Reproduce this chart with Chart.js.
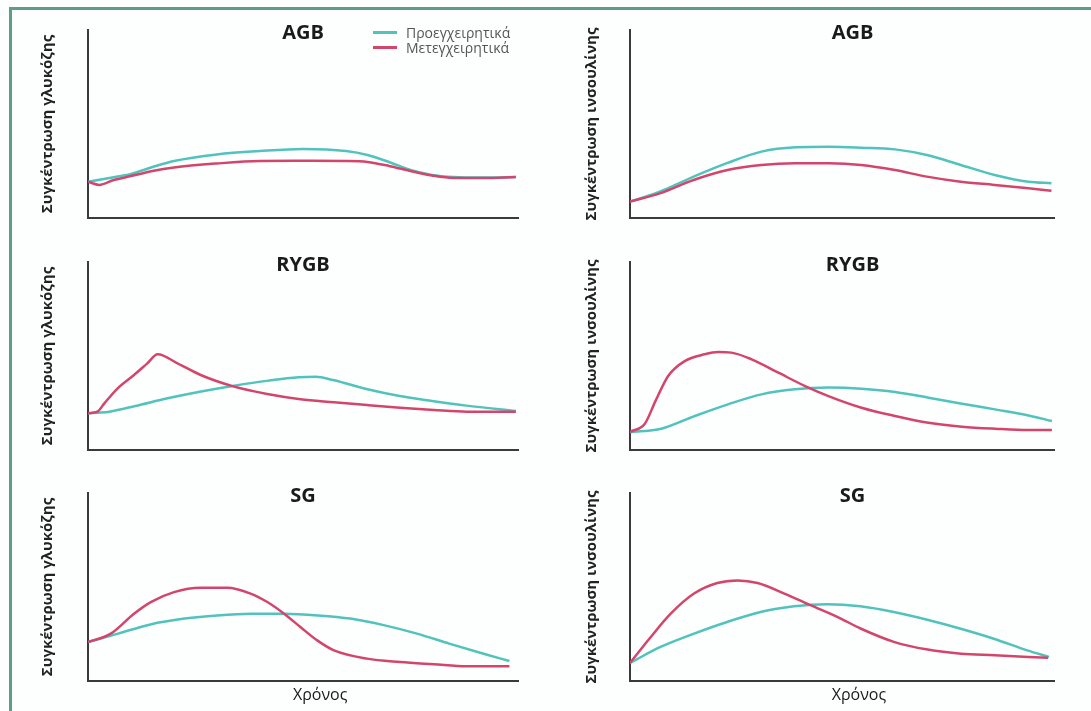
<!DOCTYPE html>
<html>
<head>
<meta charset="utf-8">
<script src="https://cdn.jsdelivr.net/npm/chart.js@4"></script>
<style>
  body { margin: 0; background: #fdfffe; width: 1091px; height: 711px; overflow: hidden; position: relative; font-family: "Open Sans", sans-serif; }
  #frame { position: absolute; left: 9px; top: 7px; width: 1090px; height: 710px; border-left: 3px solid #5e9e88; border-top: 3px solid #5e9e88; }
  .panel { position: absolute; }
  #legend { position: absolute; left: 373px; top: 25px; font-size: 14px; color: #555; line-height: 15px; }
  #legend div { display: flex; align-items: center; white-space: nowrap; }
  #legend span.sw { display: inline-block; width: 24px; height: 3px; margin-right: 9px; }
</style>
</head>
<body>
<div id="frame"></div>
<canvas id="agbGlu" class="panel" width="545" height="240" style="left:0;top:0"></canvas>
<canvas id="agbIns" class="panel" width="546" height="240" style="left:545px;top:0"></canvas>
<canvas id="rygbGlu" class="panel" width="545" height="230" style="left:0;top:240px"></canvas>
<canvas id="rygbIns" class="panel" width="546" height="230" style="left:545px;top:240px"></canvas>
<canvas id="sgGlu" class="panel" width="545" height="241" style="left:0;top:470px"></canvas>
<canvas id="sgIns" class="panel" width="546" height="241" style="left:545px;top:470px"></canvas>
<div id="legend"></div>
<script>
// time axis is 0..100 (arbitrary), concentration 0..100 (arbitrary)
const agbGluPreT  = [0, 5, 10, 15, 20, 30, 40, 50, 60, 65, 70, 75, 80, 85, 92, 99.5];
const agbGluPre   = [19.3, 21.3, 23.4, 27.1, 30.3, 33.8, 35.6, 36.7, 35.6, 33.5, 29.8, 25.5, 22.9, 21.8, 21.5, 21.8];
const agbGluPostT = [0, 2.6, 6, 10, 15, 20, 30, 40, 50, 60, 65, 70, 75, 80, 85, 92, 99.5];
const agbGluPost  = [19.3, 17.6, 20.2, 22.3, 25, 26.9, 29, 30.3, 30.4, 30.3, 29.8, 27.7, 25, 22.6, 21.3, 21.3, 21.8];

const agbInsT    = [0, 7, 15, 23, 31, 39, 47, 54.5, 62.5, 70, 78, 86, 94, 99.4];
const agbInsPre  = [8.7, 14, 22, 29.3, 35.3, 37.6, 37.9, 37.4, 36.5, 33.5, 28.2, 22.9, 19.3, 18.5];
const agbInsPost = [8.7, 13.1, 20.2, 25.5, 28.2, 29.1, 29.1, 28.2, 25.5, 22, 19.3, 17.6, 15.8, 14.5];

const rygbGluPreT  = [0, 3, 5, 11, 18.5, 26, 34, 42, 49, 53, 57, 65, 72.5, 80, 88, 99.5];
const rygbGluPre   = [19.5, 19.9, 20.4, 23.4, 27.5, 31, 34.2, 36.9, 38.7, 39, 37.2, 32.3, 28.7, 26.1, 23.6, 20.7];
const rygbGluPostT = [0, 2.2, 3.8, 6.9, 10.7, 13.8, 16.2, 20.8, 26.2, 34, 41.7, 49.4, 57.2, 64.9, 72.6, 80.4, 88.1, 99.5];
const rygbGluPost  = [19.5, 20.4, 24.8, 32.8, 39.9, 46.1, 50.9, 46.1, 39.9, 33.7, 29.8, 27, 25.4, 23.9, 22.5, 21.3, 20.4, 20.4];

const rygbInsPreT  = [0, 3.5, 7.4, 15.3, 23.1, 31, 38.9, 46.8, 54.6, 62.5, 70.4, 78.3, 86.1, 94, 99.5];
const rygbInsPre   = [9.6, 10.1, 11.3, 18.1, 24.3, 29.6, 32.3, 33.2, 32.6, 30.9, 27.8, 24.6, 21.6, 18.4, 15.4];
const rygbInsPostT = [0, 3.5, 6, 9, 12.9, 17.6, 20.8, 23.9, 28.7, 35, 41.3, 46.8, 54.6, 62.5, 70.4, 78.3, 86.1, 94, 99.5];
const rygbInsPost  = [9.6, 14, 26, 39.4, 47.3, 50.9, 52.1, 51.8, 48.2, 41.1, 34, 28.7, 22.5, 18.1, 14.5, 12.4, 11.3, 10.6, 10.6];

const sgGluPreT  = [0, 7, 14.5, 22.5, 30, 38, 45.5, 53.5, 61, 69, 76.5, 84, 92, 98];
const sgGluPre   = [20.7, 25.2, 30.1, 33.2, 34.9, 35.8, 35.8, 34.9, 33.2, 29.6, 25.2, 19.9, 14.5, 10.6];
const sgGluPostT = [0, 5.3, 10.7, 14.6, 20, 26.2, 32.4, 37.8, 41.7, 45.6, 49.4, 53.3, 57.2, 64.9, 72.6, 80.4, 88.1, 98];
const sgGluPost  = [20.7, 25.2, 35.8, 42, 47.3, 49.6, 49.6, 46.5, 42, 35.8, 28.7, 21.6, 16.3, 11.9, 10.1, 8.9, 7.8, 7.8];

const sgInsPreT  = [0, 7.2, 15.1, 22.9, 30.8, 38.7, 46.5, 54.3, 62.2, 70.1, 78, 85.8, 93.7, 98.8];
const sgInsPre   = [9.6, 18.1, 25.2, 31.4, 36.7, 39.7, 40.8, 39.7, 36.7, 32.6, 27.8, 22.5, 16.3, 12.8];
const sgInsPostT = [0, 4.9, 9.6, 15.1, 20.6, 25.4, 30.1, 36.4, 42.7, 49, 54.5, 62.4, 70.2, 78.1, 86, 93.9, 98.6];
const sgInsPost  = [9.6, 23.4, 35.8, 46.5, 52.1, 53.5, 52.1, 46.5, 40.2, 34, 27.8, 20.7, 16.7, 14.5, 13.7, 12.8, 12.4];

const seriesLabels = ['Προεγχειρητικά', 'Μετεγχειρητικά'];
const preColor = '#52c2bd';
const postColor = '#d4456c';
const axisColor = '#3a3a3a';

Chart.defaults.font.family = '"Open Sans", sans-serif';

function zip(t, v) {
    return t.map((x, i) => ({ x: x, y: v[i] }));
}

// panel title + x label drawn relative to the plot area
const panelText = {
    id: 'panelText',
    afterDraw(chart, args, opts) {
        const { ctx, chartArea: a } = chart;
        ctx.save();
        ctx.textAlign = 'center';
        ctx.textBaseline = 'middle';
        ctx.fillStyle = '#1a1a1a';
        ctx.font = 'bold 20px "Open Sans"';
        ctx.fillText(opts.title, a.left + a.width * opts.titleX, a.top + 3);
        if (opts.xLabel) {
            ctx.font = '16px "Open Sans"';
            ctx.fillText(opts.xLabel, a.left + a.width * opts.xLabelX, a.bottom + 14);
        }
        ctx.restore();
    }
};

function makePanel(id, cfg) {
    const right = cfg.col === 1;
    return new Chart(document.getElementById(id), {
        type: 'line',
        data: {
            datasets: [{
                label: seriesLabels[0],
                data: zip(cfg.preT, cfg.pre),
                borderColor: preColor,
                order: 2
            }, {
                label: seriesLabels[1],
                data: zip(cfg.postT, cfg.post),
                borderColor: postColor,
                order: 1
            }]
        },
        options: {
            responsive: false,
            animation: false,
            events: [],
            layout: { padding: { left: right ? 34 : 35, right: right ? 37 : 27, top: cfg.padTop, bottom: cfg.padBottom } },
            elements: {
                point: { radius: 0 },
                line: { borderWidth: 2.5, cubicInterpolationMode: 'monotone', fill: false }
            },
            scales: {
                x: {
                    type: 'linear', min: 0, max: 100,
                    grid: { display: false, drawTicks: false },
                    border: { display: true, color: axisColor, width: 2 },
                    ticks: { display: false }
                },
                y: {
                    min: 0, max: 100,
                    grid: { display: false, drawTicks: false },
                    border: { display: true, color: axisColor, width: 2 },
                    ticks: { display: false },
                    title: {
                        display: true,
                        text: cfg.yTitle,
                        color: '#222',
                        font: { size: 15, weight: 'bold' },
                        padding: { top: 4, bottom: right ? 29 : 31 }
                    }
                }
            },
            plugins: {
                legend: { display: false },
                tooltip: { enabled: false },
                panelText: {
                    title: cfg.title,
                    titleX: right ? 0.525 : 0.5,
                    xLabel: cfg.xLabel,
                    xLabelX: 0.54
                }
            }
        },
        plugins: [panelText]
    });
}

const gluTitle = 'Συγκέντρωση γλυκόζης';
const insTitle = 'Συγκέντρωση ινσουλίνης';

const first = makePanel('agbGlu', { col: 0, title: 'AGB', yTitle: gluTitle, padTop: 30, padBottom: 22,
    preT: agbGluPreT, pre: agbGluPre, postT: agbGluPostT, post: agbGluPost });
makePanel('agbIns', { col: 1, title: 'AGB', yTitle: insTitle, padTop: 30, padBottom: 22,
    preT: agbInsT, pre: agbInsPre, postT: agbInsT, post: agbInsPost });
makePanel('rygbGlu', { col: 0, title: 'RYGB', yTitle: gluTitle, padTop: 22, padBottom: 20,
    preT: rygbGluPreT, pre: rygbGluPre, postT: rygbGluPostT, post: rygbGluPost });
makePanel('rygbIns', { col: 1, title: 'RYGB', yTitle: insTitle, padTop: 22, padBottom: 20,
    preT: rygbInsPreT, pre: rygbInsPre, postT: rygbInsPostT, post: rygbInsPost });
makePanel('sgGlu', { col: 0, title: 'SG', yTitle: gluTitle, padTop: 23, padBottom: 30, xLabel: 'Χρόνος',
    preT: sgGluPreT, pre: sgGluPre, postT: sgGluPostT, post: sgGluPost });
makePanel('sgIns', { col: 1, title: 'SG', yTitle: insTitle, padTop: 23, padBottom: 30, xLabel: 'Χρόνος',
    preT: sgInsPreT, pre: sgInsPre, postT: sgInsPostT, post: sgInsPost });

// html legend from the first panel's datasets
const legendEl = document.getElementById('legend');
first.data.datasets.forEach(ds => {
    const row = document.createElement('div');
    const sw = document.createElement('span');
    sw.className = 'sw';
    sw.style.background = ds.borderColor;
    row.appendChild(sw);
    row.appendChild(document.createTextNode(ds.label));
    legendEl.appendChild(row);
});
</script>
</body>
</html>
